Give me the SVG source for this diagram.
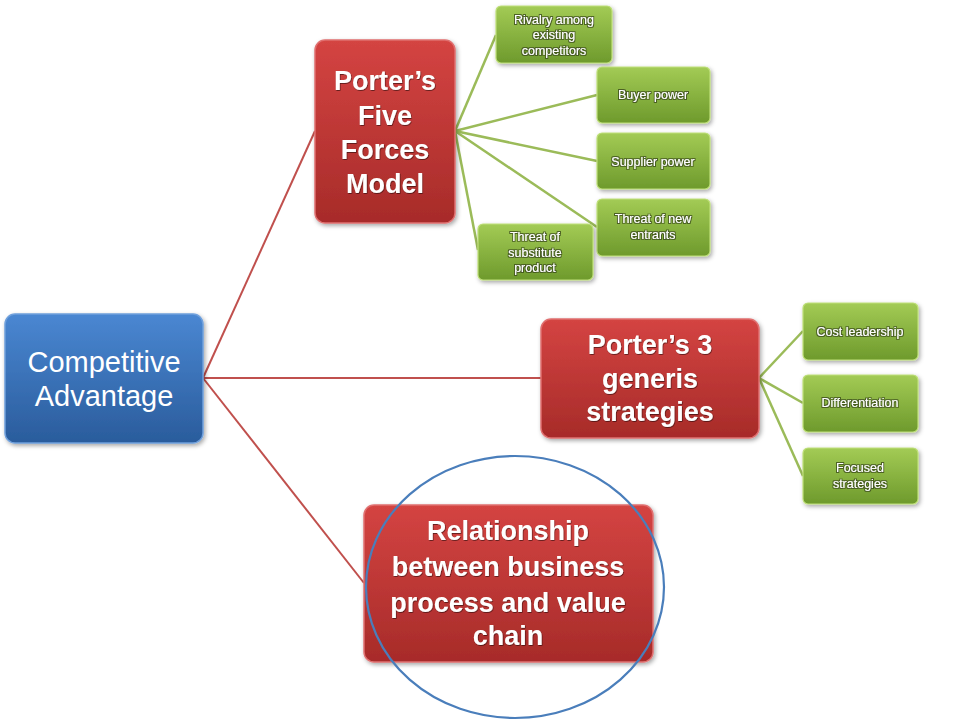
<svg xmlns="http://www.w3.org/2000/svg" width="960" height="720" viewBox="0 0 960 720">
<defs>
<linearGradient id="gBlue" x1="0" y1="0" x2="0" y2="1"><stop offset="0" stop-color="#4a87d2"/><stop offset="1" stop-color="#2a5c9c"/></linearGradient>
<linearGradient id="gRed" x1="0" y1="0" x2="0" y2="1"><stop offset="0" stop-color="#d44442"/><stop offset="1" stop-color="#a72b29"/></linearGradient>
<linearGradient id="gGreen" x1="0" y1="0" x2="0" y2="1"><stop offset="0" stop-color="#a3cb55"/><stop offset="1" stop-color="#6e9a2c"/></linearGradient>
<filter id="sh" x="-10%" y="-10%" width="130%" height="130%"><feDropShadow dx="1.5" dy="2" stdDeviation="2" flood-color="#000" flood-opacity="0.35"/></filter>
<filter id="ts" x="-10%" y="-20%" width="120%" height="140%"><feDropShadow dx="0.6" dy="0.8" stdDeviation="0.6" flood-color="#000" flood-opacity="0.6"/></filter>
<filter id="tsg" x="-10%" y="-30%" width="120%" height="160%"><feMorphology in="SourceAlpha" operator="dilate" radius="0.8" result="d"/><feFlood flood-color="#3a4a1a" flood-opacity="0.8"/><feComposite in2="d" operator="in" result="o"/><feMerge><feMergeNode in="o"/><feMergeNode in="SourceGraphic"/></feMerge></filter>
</defs>
<style>
.blue{fill:url(#gBlue);stroke:#6fa0dc;stroke-width:1.5;filter:url(#sh)}
.red{fill:url(#gRed);stroke:#e07070;stroke-width:1.5;filter:url(#sh)}
.green{fill:url(#gGreen);stroke:#bfe07a;stroke-width:1.2;filter:url(#sh)}
.tb{font-family:"Liberation Sans",Arial,sans-serif;font-size:29px;fill:#fff;text-anchor:middle}
.tr{font-family:"Liberation Sans",Arial,sans-serif;font-weight:bold;font-size:27px;fill:#fff;text-anchor:middle;filter:url(#ts)}
.tg{font-family:"Liberation Sans",Arial,sans-serif;font-size:12.5px;fill:#fff;text-anchor:middle;filter:url(#tsg)}
.lr{stroke:#c0504d;stroke-width:2;fill:none}
.lg{stroke:#9bbb59;stroke-width:2.5;fill:none}
</style>
<rect width="960" height="720" fill="#fff"/>
<g id="connectors">
<line class="lr" x1="203" y1="378" x2="315" y2="131"/>
<line class="lr" x1="203" y1="378" x2="541" y2="378"/>
<line class="lr" x1="203" y1="378" x2="364" y2="583"/>
<line class="lg" x1="455" y1="131" x2="496" y2="35"/>
<line class="lg" x1="455" y1="131" x2="597" y2="95"/>
<line class="lg" x1="455" y1="131" x2="597" y2="161"/>
<line class="lg" x1="455" y1="131" x2="597" y2="227"/>
<line class="lg" x1="455" y1="131" x2="478" y2="250"/>
<line class="lg" x1="759" y1="378" x2="803" y2="331"/>
<line class="lg" x1="759" y1="378" x2="803" y2="403"/>
<line class="lg" x1="759" y1="378" x2="803" y2="476"/>
</g>
<g id="competitive-advantage">
<rect class="blue" x="5" y="314" width="198" height="129" rx="10"/>
<text class="tb" x="104" y="372">Competitive</text>
<text class="tb" x="104" y="406">Advantage</text>
</g>
<g id="porters-five-forces">
<rect class="red" x="315" y="40" width="140" height="183" rx="10"/>
<text class="tr" x="385" y="90">Porter’s</text>
<text class="tr" x="385" y="125">Five</text>
<text class="tr" x="385" y="159">Forces</text>
<text class="tr" x="385" y="193">Model</text>
</g>
<g id="porters-3-generis">
<rect class="red" x="541" y="319" width="218" height="119" rx="10"/>
<text class="tr" x="650" y="354">Porter’s 3</text>
<text class="tr" x="650" y="388">generis</text>
<text class="tr" x="650" y="421">strategies</text>
</g>
<g id="relationship">
<rect class="red" x="364" y="505" width="289" height="157" rx="10"/>
<text class="tr" x="508" y="540">Relationship</text>
<text class="tr" x="508" y="576">between business</text>
<text class="tr" x="508" y="612">process and value</text>
<text class="tr" x="508" y="645">chain</text>
</g>
<g id="rivalry">
<rect class="green" x="496" y="6" width="116" height="57" rx="5"/>
<text class="tg" x="554" y="24">Rivalry among</text>
<text class="tg" x="554" y="39">existing</text>
<text class="tg" x="554" y="55">competitors</text>
</g>
<g id="buyer-power">
<rect class="green" x="597" y="67" width="113" height="56" rx="5"/>
<text class="tg" x="653" y="99">Buyer power</text>
</g>
<g id="supplier-power">
<rect class="green" x="597" y="133" width="113" height="56" rx="5"/>
<text class="tg" x="653" y="166">Supplier power</text>
</g>
<g id="threat-new-entrants">
<rect class="green" x="597" y="199" width="113" height="57" rx="5"/>
<text class="tg" x="653" y="223">Threat of new</text>
<text class="tg" x="653" y="239">entrants</text>
</g>
<g id="threat-substitute">
<rect class="green" x="478" y="224" width="115" height="56" rx="5"/>
<text class="tg" x="535" y="241">Threat of</text>
<text class="tg" x="535" y="257">substitute</text>
<text class="tg" x="535" y="272">product</text>
</g>
<g id="cost-leadership">
<rect class="green" x="803" y="303" width="115" height="57" rx="5"/>
<text class="tg" x="860" y="336">Cost leadership</text>
</g>
<g id="differentiation">
<rect class="green" x="803" y="375" width="115" height="57" rx="5"/>
<text class="tg" x="860" y="407">Differentiation</text>
</g>
<g id="focused-strategies">
<rect class="green" x="803" y="448" width="115" height="56" rx="5"/>
<text class="tg" x="860" y="472">Focused</text>
<text class="tg" x="860" y="488">strategies</text>
</g>
<g id="highlight-circle">
<ellipse cx="515" cy="587" rx="149" ry="131" fill="none" stroke="#4a7ebb" stroke-width="2.2"/>
</g>
</svg>
